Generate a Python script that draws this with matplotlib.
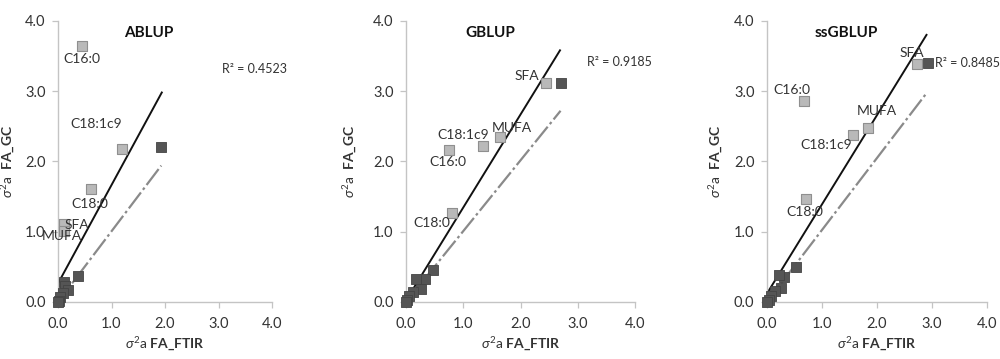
import matplotlib
matplotlib.use("Agg")
import matplotlib.pyplot as plt


FONT = "Lato"

plt.rcParams["font.family"]      = [FONT, "DejaVu Sans"]
plt.rcParams["mathtext.fontset"] = "custom"
plt.rcParams["mathtext.rm"]      = FONT
plt.rcParams["mathtext.it"]      = f"{FONT}:italic"
plt.rcParams["mathtext.bf"]      = f"{FONT}:bold"

# fatty acid order for the light squares
FA_NAMES = ["C16:0", "C18:1c9", "C18:0", "SFA", "MUFA"]

# ABLUP
ABLUP_FA_X   = [0.45, 1.20, 0.62, 0.11, 0.11]
ABLUP_FA_Y   = [3.64, 2.17, 1.61, 1.11, 1.01]
ABLUP_DARK_X = [1.93, 0.38, 0.11, 0.13, 0.19, 0.09, 0.04, 0.01, 0.00]
ABLUP_DARK_Y = [2.20, 0.37, 0.29, 0.22, 0.17, 0.13, 0.07, 0.02, 0.00]
ABLUP_FIT_X  = [0.02, 1.94]
ABLUP_FIT_Y  = [0.29, 2.98]
ABLUP_REF_X  = [0.00, 1.93]
ABLUP_REF_Y  = [0.00, 1.94]
ABLUP_R2     = "0.4523"

# GBLUP
GBLUP_FA_X   = [0.75, 1.34, 0.81, 2.44, 1.65]
GBLUP_FA_Y   = [2.16, 2.22, 1.26, 3.11, 2.34]
GBLUP_DARK_X = [2.71, 0.47, 0.33, 0.18, 0.27, 0.12, 0.05, 0.02, 0.00]
GBLUP_DARK_Y = [3.12, 0.45, 0.33, 0.33, 0.18, 0.14, 0.08, 0.03, 0.00]
GBLUP_FIT_X  = [0.00, 2.69]
GBLUP_FIT_Y  = [0.02, 3.58]
GBLUP_REF_X  = [0.00, 2.70]
GBLUP_REF_Y  = [0.00, 2.72]
GBLUP_R2     = "0.9185"

# ssGBLUP
SSGBLUP_FA_X   = [0.67, 1.57, 0.70, 2.72, 1.83]
SSGBLUP_FA_Y   = [2.86, 2.38, 1.47, 3.38, 2.48]
SSGBLUP_DARK_X = [2.92, 0.53, 0.31, 0.22, 0.25, 0.15, 0.08, 0.03, 0.00]
SSGBLUP_DARK_Y = [3.40, 0.49, 0.36, 0.38, 0.20, 0.15, 0.08, 0.03, 0.00]
SSGBLUP_FIT_X  = [0.00, 2.90]
SSGBLUP_FIT_Y  = [0.12, 3.80]
SSGBLUP_REF_X  = [0.00, 2.90]
SSGBLUP_REF_Y  = [0.00, 2.97]
SSGBLUP_R2     = "0.8485"

TICKS = [0.0, 1.0, 2.0, 3.0, 4.0]

# layout: axes rectangles and where the text sits (data coords)
AX_RECTS = [
    [0.058, 0.159, 0.214, 0.783],
    [0.406, 0.159, 0.229, 0.783],
    [0.767, 0.159, 0.220, 0.783],
]
YLABEL_X  = [-0.19, -0.205, -0.19]
TITLE_POS = [(1.69, 3.83), (1.48, 3.82), (1.45, 3.82)]
R2_POS    = [(3.06, 3.31), (3.16, 3.42), (3.05, 3.40)]
LABEL_POS = [
    [(0.44, 3.45), (0.72, 2.53), (0.60, 1.39), (0.35, 1.10), (0.08, 0.94)],
    [(0.74, 1.99), (1.00, 2.38), (0.45, 1.12), (2.11, 3.21), (1.84, 2.48)],
    [(0.45, 3.02), (1.07, 2.24), (0.69, 1.28), (2.63, 3.54), (1.99, 2.71)],
]

TEXT_COL  = "#333333"
LIGHT_COL = "#b9b9b9"
LIGHT_EDG = "#8f8f8f"
DARK_COL  = "#555555"
SPINE_COL = "#c4c4c4"


def draw_panel(ax, title, fa_x, fa_y, dark_x, dark_y, fit, ref, r2, idx):
    ax.plot(fit[0], fit[1], color="#111111", linewidth=1.4, zorder=2)
    ax.plot(ref[0], ref[1], color="#8a8a8a", linewidth=1.6,
            linestyle=(0, (9, 1.5, 1.2, 1.5)), zorder=2)

    ax.scatter(dark_x, dark_y, marker="s", s=52, color=DARK_COL,
               edgecolor="#444444", linewidth=0.6, zorder=3, clip_on=False)
    ax.scatter(fa_x, fa_y, marker="s", s=52, color=LIGHT_COL,
               edgecolor=LIGHT_EDG, linewidth=0.8, zorder=3, clip_on=False)

    for name, (lx, ly) in zip(FA_NAMES, LABEL_POS[idx]):
        ax.text(lx, ly, name, ha="center", va="center", fontsize=10,
                color=TEXT_COL, zorder=4)

    tx, ty = TITLE_POS[idx]
    ax.text(tx, ty, title, ha="center", va="center", fontsize=11,
            fontweight="bold", color="#111111")
    rx, ry = R2_POS[idx]
    ax.text(rx, ry, f"R² = {r2}", ha="left", va="center", fontsize=9,
            color=TEXT_COL)

    ax.set_xlim(0, 4)
    ax.set_ylim(0, 4)
    ax.set_xticks(TICKS)
    ax.set_yticks(TICKS)
    ax.set_xticklabels([f"{t:.1f}" for t in TICKS])
    ax.set_yticklabels([f"{t:.1f}" for t in TICKS])
    ax.tick_params(axis="both", labelsize=10.5, labelcolor=TEXT_COL,
                   color=SPINE_COL, length=4, width=0.9)
    ax.tick_params(axis="x", pad=7)
    ax.tick_params(axis="y", pad=5)

    for side in ("top", "right"):
        ax.spines[side].set_visible(False)
    for side in ("left", "bottom"):
        ax.spines[side].set_color(SPINE_COL)
        ax.spines[side].set_linewidth(1.0)

    ax.set_xlabel(r"$\sigma^2$a $\mathbf{FA\_FTIR}$", fontsize=10,
                  color=TEXT_COL, labelpad=3)
    ax.set_ylabel(r"$\sigma^2$a  $\mathbf{FA\_GC}$", fontsize=10,
                  color=TEXT_COL)
    ax.yaxis.set_label_coords(YLABEL_X[idx], 0.5)
    ax.patch.set_alpha(0)


def main():
    fig = plt.figure(figsize=(10, 3.59), dpi=100)

    panels = [
        ("ABLUP", ABLUP_FA_X, ABLUP_FA_Y, ABLUP_DARK_X, ABLUP_DARK_Y,
         (ABLUP_FIT_X, ABLUP_FIT_Y), (ABLUP_REF_X, ABLUP_REF_Y), ABLUP_R2),
        ("GBLUP", GBLUP_FA_X, GBLUP_FA_Y, GBLUP_DARK_X, GBLUP_DARK_Y,
         (GBLUP_FIT_X, GBLUP_FIT_Y), (GBLUP_REF_X, GBLUP_REF_Y), GBLUP_R2),
        ("ssGBLUP", SSGBLUP_FA_X, SSGBLUP_FA_Y, SSGBLUP_DARK_X, SSGBLUP_DARK_Y,
         (SSGBLUP_FIT_X, SSGBLUP_FIT_Y), (SSGBLUP_REF_X, SSGBLUP_REF_Y), SSGBLUP_R2),
    ]

    for idx, (rect, panel) in enumerate(zip(AX_RECTS, panels)):
        ax = fig.add_axes(rect)
        draw_panel(ax, *panel, idx)

    fig.savefig("out.png", dpi=100)
    plt.close(fig)


if __name__ == "__main__":
    main()
